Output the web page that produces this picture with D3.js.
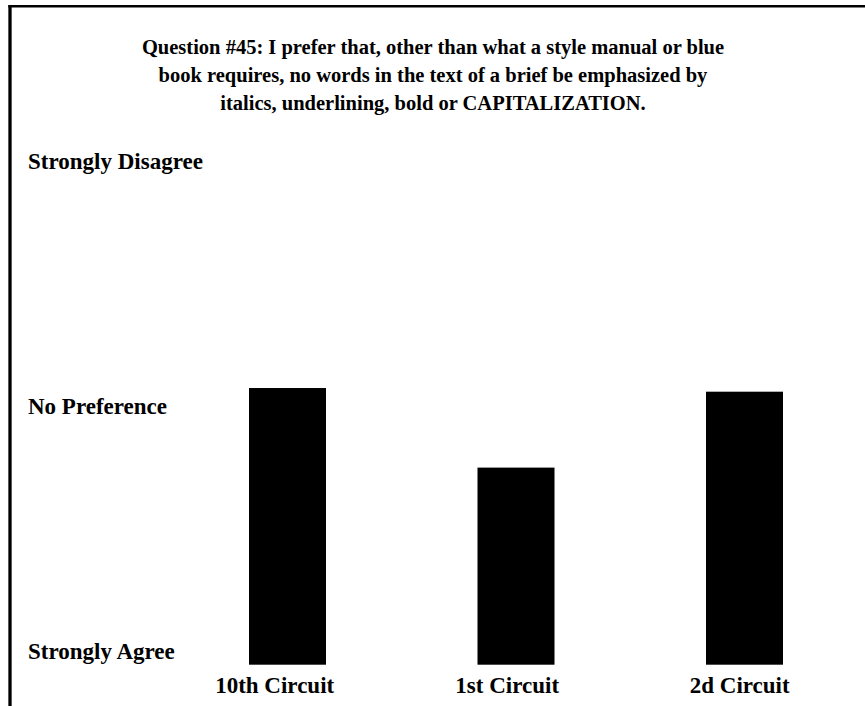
<!DOCTYPE html>
<html>
<head>
<meta charset="utf-8">
<script src="https://cdn.jsdelivr.net/npm/d3@7"></script>
<style>
  html, body { margin: 0; padding: 0; background: #fff; }
  svg { display: block; }
  text { font-family: "Liberation Serif", "Times New Roman", Times, serif; font-weight: bold; fill: #000; }
</style>
</head>
<body>
<svg id="chart" width="865" height="706"></svg>
<script>
// ---- data ----
const titleLines = [
  "Question #45: I prefer that, other than what a style manual or blue",
  "book requires, no words in the text of a brief be emphasized by",
  "italics, underlining, bold or CAPITALIZATION."
];
const categories = ["10th Circuit", "1st Circuit", "2d Circuit"];
const values = [3.26, 2.61, 3.23];
const tickValues = [1, 3, 5];
const tickLabels = ["Strongly Agree", "No Preference", "Strongly Disagree"];

// ---- drawing ----
const width = 865, height = 706;
const svg = d3.select("#chart");

svg.append("rect").attr("x", 0).attr("y", 0).attr("width", width).attr("height", height).attr("fill", "#fff");

// frame (top and left edges visible)
svg.append("line").attr("x1", 8.4).attr("x2", width).attr("y1", 6.2).attr("y2", 6.2)
  .attr("stroke", "#000").attr("stroke-width", 2.5);
svg.append("line").attr("x1", 10).attr("x2", 10).attr("y1", 5).attr("y2", height)
  .attr("stroke", "#000").attr("stroke-width", 3.3);

// title
const title = svg.append("text").attr("text-anchor", "middle").style("font-size", "20.5px");
titleLines.forEach((t, i) => {
  title.append("tspan").attr("x", 433).attr("y", 54 + i * 28).text(t);
});

// scales
const y = d3.scaleLinear().domain([1, 5]).range([664.7, 175]);
const x = d3.scaleBand().domain(categories).range([249, 783])
  .paddingInner(1 - 77 / 228.5).paddingOuter(0);
// label positions (slightly wider spacing than the bars)
const xl = d3.scalePoint().domain(categories).range([274.7, 739.7]);

// bars
svg.append("g").selectAll("rect").data(values).join("rect")
  .attr("x", (d, i) => x(categories[i]))
  .attr("width", x.bandwidth())
  .attr("y", d => y(d))
  .attr("height", d => y(1) - y(d))
  .attr("fill", "#000");

// y labels
svg.append("g").selectAll("text").data(tickValues).join("text")
  .attr("x", 28)
  .attr("y", d => y(d) - 6)
  .style("font-size", "23px")
  .text((d, i) => tickLabels[i]);

// x labels
svg.append("g").selectAll("text").data(categories).join("text")
  .attr("x", d => xl(d))
  .attr("y", 692.5)
  .attr("text-anchor", "middle")
  .style("font-size", "23px")
  .text(d => d);
</script>
</body>
</html>
